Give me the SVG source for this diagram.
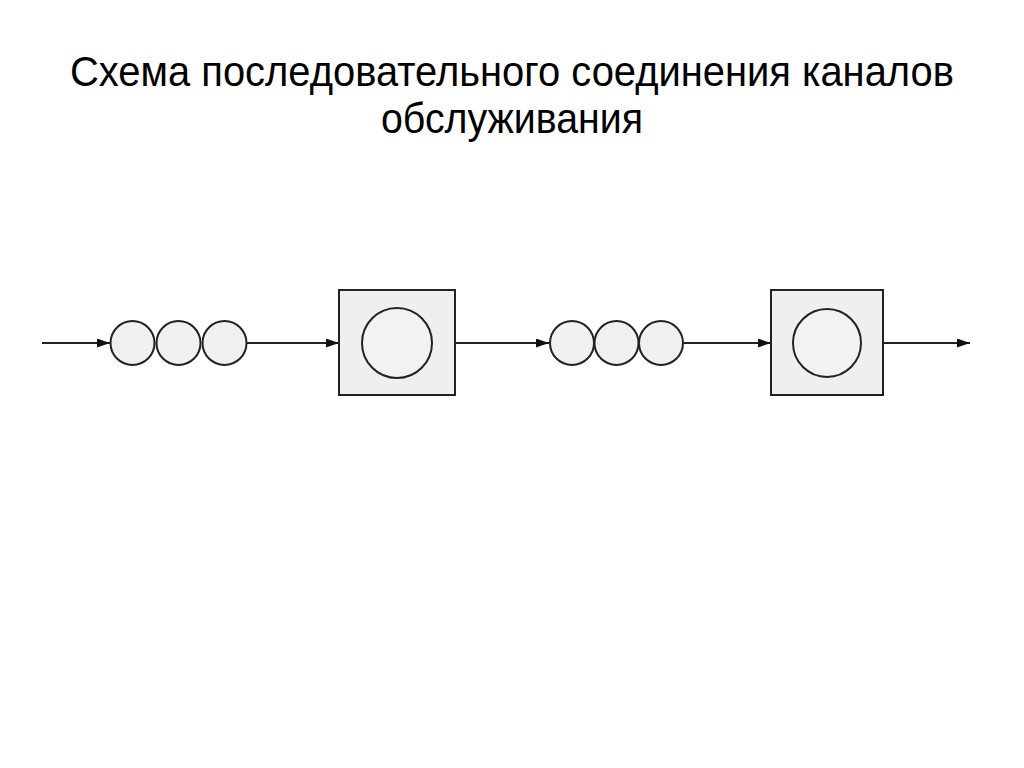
<svg xmlns="http://www.w3.org/2000/svg" width="1024" height="768" viewBox="0 0 1024 768">
<style>
.title{font-family:"Liberation Sans Narrow","Liberation Sans",Arial,sans-serif;font-size:42px;fill:#000;text-anchor:middle}
.q{fill:#f0f0f0;stroke:#222;stroke-width:2}
.box{fill:#efefef;stroke:#222;stroke-width:2}
.srv{fill:#f2f2f2;stroke:#222;stroke-width:2}
.c{stroke:#222;stroke-width:2;fill:none}
</style>
<defs>
<marker id="ah" markerWidth="13" markerHeight="9" refX="13" refY="4.5" orient="auto" markerUnits="userSpaceOnUse">
<path d="M0,0 L13,4.5 L0,9 Z" fill="#111"/>
</marker>
</defs>
<rect width="1024" height="768" fill="#fff"/>
<g id="title">
<text class="title" x="512" y="86" textLength="884" lengthAdjust="spacingAndGlyphs">Схема последовательного соединения каналов</text>
<text class="title" x="512" y="133" textLength="262" lengthAdjust="spacingAndGlyphs">обслуживания</text>
</g>
<g id="connectors">
<line class="c" x1="42" y1="343" x2="110" y2="343" marker-end="url(#ah)"/>
<line class="c" x1="247" y1="343" x2="339" y2="343" marker-end="url(#ah)"/>
<line class="c" x1="455" y1="343" x2="549" y2="343" marker-end="url(#ah)"/>
<line class="c" x1="683" y1="343" x2="771" y2="343" marker-end="url(#ah)"/>
<line class="c" x1="883" y1="343" x2="970" y2="343" marker-end="url(#ah)"/>
</g>
<g id="queue1">
<circle class="q" cx="132.5" cy="343" r="22"/>
<circle class="q" cx="178.5" cy="343" r="22"/>
<circle class="q" cx="224.5" cy="343" r="22"/>
</g>
<g id="channel1">
<rect class="box" x="339" y="290" width="116" height="105"/>
<circle class="srv" cx="397" cy="343" r="35"/>
</g>
<g id="queue2">
<circle class="q" cx="572" cy="343" r="22"/>
<circle class="q" cx="616.5" cy="343" r="22"/>
<circle class="q" cx="661" cy="343" r="22"/>
</g>
<g id="channel2">
<rect class="box" x="771" y="290" width="112" height="105"/>
<circle class="srv" cx="827" cy="343" r="34"/>
</g>
</svg>
